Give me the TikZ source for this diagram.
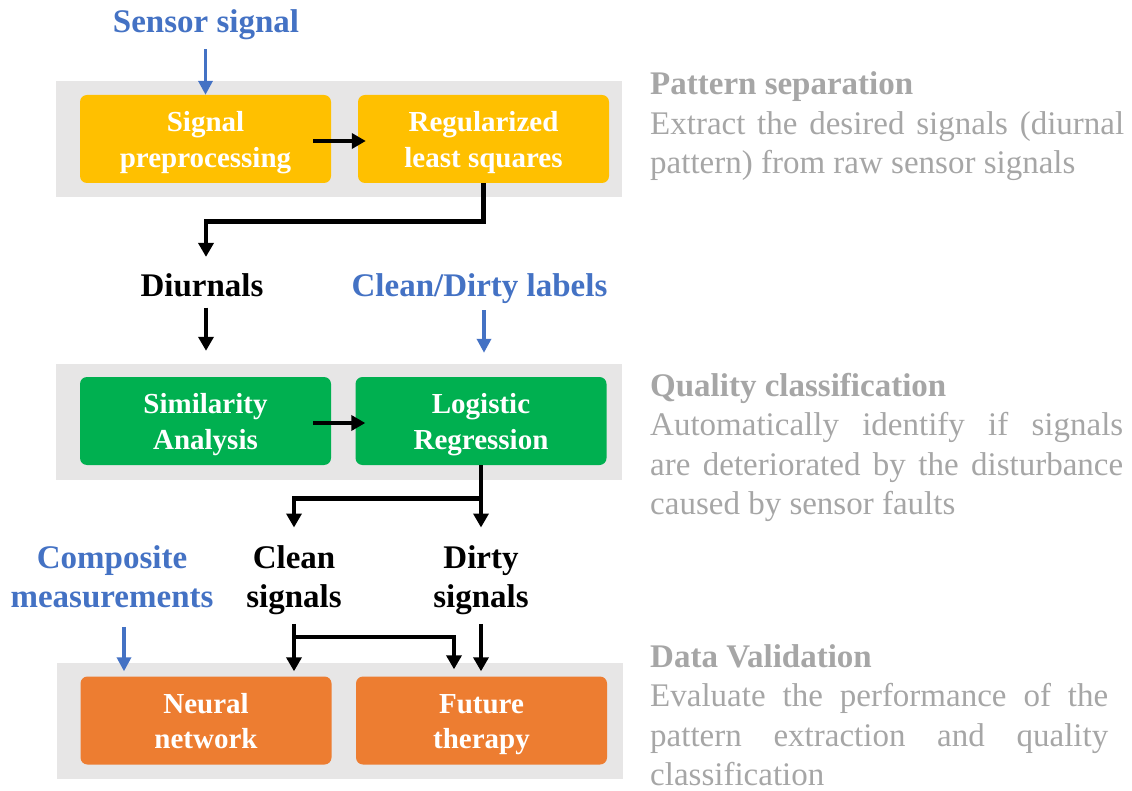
\documentclass[tikz,border=0pt]{standalone}
\usepackage{fontspec}
\setmainfont{Liberation Serif}
\usetikzlibrary{arrows.meta,calc}
\definecolor{ybox}{HTML}{FFC000}
\definecolor{gbox}{HTML}{00B050}
\definecolor{obox}{HTML}{ED7D31}
\definecolor{inblue}{HTML}{4472C4}
\definecolor{panelgray}{HTML}{E7E6E6}
\definecolor{descgray}{HTML}{A6A6A6}
% two-line centred text for the stage boxes and labels
\newcommand{\stagetext}[2]{\begin{tabular}{@{}c@{}}\rule{0pt}{32pt}#1\\#2\end{tabular}}
\newcommand{\pairtext}[2]{\begin{tabular}[t]{@{}c@{}}#1\\#2\end{tabular}}
\begin{document}
\begin{tikzpicture}[x=1pt,y=-1pt,
  panel/.style={fill=panelgray, draw=none, minimum width=566pt, minimum height=116pt, inner sep=0},
  stage/.style={rounded corners=7pt, draw=none, minimum width=251pt, minimum height=88pt,
    inner sep=0, text=white, font=\fontsize{29}{35.5}\selectfont\bfseries},
  lbl/.style={inner sep=0, anchor=base, font=\fontsize{33}{39}\selectfont\bfseries},
  inlbl/.style={lbl, text=inblue},
  desc/.style={inner sep=0, text=descgray, anchor=base west, font=\fontsize{33}{39.5}\selectfont},
  flow/.style={line width=4.8pt, -{Triangle[width=15pt,length=14pt]}},
  feed/.style={line width=3.4pt, draw=inblue, -{Triangle[width=14pt,length=14pt]}},
]
\useasboundingbox (0,0) rectangle (1132,791);

% stage panels
\node[panel] (p1) at (339,139.5) {};
\node[panel] (p2) at (339,422) {};
\node[panel] (p3) at (339.5,721) {};

% processing boxes
\node[stage, fill=ybox] (sp)  at (205.5,139) {\stagetext{Signal}{preprocessing}};
\node[stage, fill=ybox] (rls) at (483.5,139) {\stagetext{Regularized}{least squares}};
\node[stage, fill=gbox] (sa)  at (205.5,421) {\stagetext{Similarity}{Analysis}};
\node[stage, fill=gbox] (lr)  at (481,421)   {\stagetext{Logistic}{Regression}};
\node[stage, fill=obox] (nn)  at (206,720.5) {\stagetext{Neural}{network}};
\node[stage, fill=obox] (ft)  at (481.5,720.5) {\stagetext{Future}{therapy}};

% inputs and intermediate data
\node[inlbl] (sensor) at (206,33) {Sensor signal};
\node[lbl] (diurnals) at (202,297) {Diurnals};
\node[inlbl] (cdl) at (479.5,297) {Clean/Dirty labels};
\node[lbl] (clean) at (294,568) {\pairtext{Clean}{signals}};
\node[lbl] (dirty) at (481,568) {\pairtext{Dirty}{signals}};
\node[inlbl] (comp) at (112,568) {\pairtext{Composite}{measurements}};

% connectors
\coordinate (tipA) at ($(diurnals.north)+(4,-17)$);
\coordinate (tipC) at ($(clean.north)+(0,-13)$);
\coordinate (tipD) at ($(dirty.north)+(0,-13)$);

\draw[feed] ($(sensor.south -| sp.north)+(0,9)$) -- (sp.north);
\draw[flow] ($(sp.east)+(-18,2)$) -- ($(rls.west)+(8,2)$);
\draw[flow] (rls.south) -- ++(0,38) -| (tipA);
\draw[flow] ($(diurnals.south)+(4,10)$) -- ($(sa.north)+(0.5,-26)$);
\draw[feed] ($(cdl.south)+(4.5,6)$) -- ($(lr.north)+(3,-24)$);
\draw[flow] ($(sa.east)+(-18,2)$) -- ($(lr.west)+(10,2)$);
\draw[flow] (lr.south) -- ++(0,33) -| (tipC);
\draw[flow] (lr.south) -- (tipD);
\draw[flow] ($(clean.south)+(0,5)$) -- ($(clean.south |- nn.north)+(0,-5)$);
\draw[flow] ($(clean.south)+(0,18)$) -| ($(ft.north)+(-27.5,-7)$);
\draw[flow] ($(dirty.south)+(0,5)$) -- ($(dirty.south |- ft.north)+(0,-5)$);
\draw[feed] ($(comp.south)+(12,8)$) -- ($(nn.north)+(-82,-5)$);

% stage descriptions
\node[desc] (d1) at (650,95) {\parbox[t]{474pt}{\fontsize{33}{39.5}\selectfont
  {\bfseries Pattern separation}\\
  \makebox[474pt][s]{Extract the desired signals (diurnal}\\
  pattern) from raw sensor signals}};
\node[desc] (d2) at (650,396) {\parbox[t]{473pt}{\fontsize{33}{39.5}\selectfont
  {\bfseries Quality classification}\\
  \makebox[473pt][s]{Automatically identify if signals}\\
  \makebox[473pt][s]{are deteriorated by the disturbance}\\
  caused by sensor faults}};
\node[desc] (d3) at (650,667) {\parbox[t]{458pt}{\fontsize{33}{39.5}\selectfont
  {\bfseries Data Validation}\\
  \makebox[458pt][s]{Evaluate the performance of the}\\
  \makebox[458pt][s]{pattern extraction and quality}\\
  classification}};
\end{tikzpicture}
\end{document}
